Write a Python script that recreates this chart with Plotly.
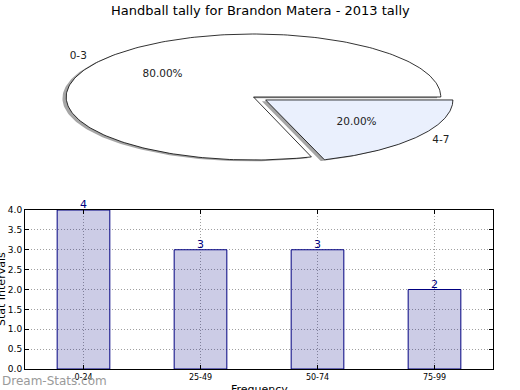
import numpy as np
import plotly.graph_objects as go

# ---- data ----
title_text = "Handball tally for Brandon Matera - 2013 tally"
pie_labels = ["0-3", "4-7"]
pie_values = [80, 20]
pie_explode = [0.0, 0.08]
pie_colors = ["#FFFFFF", "#EAF0FD"]

bar_categories = ["0-24", "25-49", "50-74", "75-99"]
bar_values = [4, 3, 3, 2]
y_ticks = [0.0, 0.5, 1.0, 1.5, 2.0, 2.5, 3.0, 3.5, 4.0]
y_tick_text = ["0.0", "0.5", "1.0", "1.5", "2.0", "2.5", "3.0", "3.5", "4.0"]
x_title = "Frequency"
y_title = "Stat Intervals"
watermark = "Dream-Stats.com"

W, H = 520, 390
FONT = "DejaVu Sans"

fig = go.Figure()

# ---- pie drawn on its own (non-equal aspect) axes ----
total = float(sum(pie_values))
fracs = [v / total for v in pie_values]
starts = np.concatenate([[0.0], np.cumsum(fracs)[:-1]]) * 2 * np.pi
ends = np.cumsum(fracs) * 2 * np.pi


def wedge(i, dx=0.0, dy=0.0):
    mid = (starts[i] + ends[i]) / 2
    cx = pie_explode[i] * np.cos(mid) + dx
    cy = pie_explode[i] * np.sin(mid) + dy
    t = np.linspace(starts[i], ends[i], 240)
    xs = np.concatenate([[cx], cx + np.cos(t), [cx]])
    ys = np.concatenate([[cy], cy + np.sin(t), [cy]])
    return xs, ys, cx, cy, mid


# shadows first
for i in range(len(pie_values)):
    xs, ys, *_ = wedge(i, -0.02, -0.02)
    fig.add_trace(go.Scatter(x=xs, y=ys, xaxis="x2", yaxis="y2", mode="lines",
                             fill="toself", fillcolor="rgba(77,77,77,0.5)",
                             line=dict(width=0), hoverinfo="skip", showlegend=False))
for i in range(len(pie_values)):
    xs, ys, *_ = wedge(i)
    fig.add_trace(go.Scatter(x=xs, y=ys, xaxis="x2", yaxis="y2", mode="lines",
                             fill="toself", fillcolor=pie_colors[i],
                             line=dict(color="black", width=0.8),
                             hoverinfo="skip", showlegend=False))
# labels and percentages
for i in range(len(pie_values)):
    _, _, cx, cy, mid = wedge(i)
    lx, ly = cx + 1.1 * np.cos(mid), cy + 1.1 * np.sin(mid)
    px, py = cx + 0.6 * np.cos(mid), cy + 0.6 * np.sin(mid)
    fig.add_trace(go.Scatter(x=[lx], y=[ly], xaxis="x2", yaxis="y2", mode="text",
                             text=[pie_labels[i]],
                             textposition="middle left" if lx < 0 else "middle right",
                             textfont=dict(family=FONT, size=10.5, color="#222"),
                             hoverinfo="skip", showlegend=False))
    fig.add_trace(go.Scatter(x=[px], y=[py], xaxis="x2", yaxis="y2", mode="text",
                             text=["%.2f%%" % (100 * fracs[i])],
                             textposition="middle center",
                             textfont=dict(family=FONT, size=10.5, color="#222"),
                             hoverinfo="skip", showlegend=False))

# ---- bar chart ----
fig.add_trace(go.Bar(x=bar_categories, y=bar_values, width=0.45,
                     marker=dict(color="rgba(0,0,128,0.2)",
                                 line=dict(color="#000080", width=1)),
                     showlegend=False, hoverinfo="skip"))

# pixel helpers
def px_x(p):
    return p / W


def px_y(p):
    return 1 - p / H


# pie axes: centre at pixel (253.5, 97), rx=187.3 px, ry=63 px
rx, ry, pcx, pcy = 187.3, 63.0, 253.5, 97.0
fig.update_layout(
    xaxis2=dict(domain=[0, 1], range=[-pcx / rx, (W - pcx) / rx], visible=False,
                anchor="y2", fixedrange=True, automargin=False),
    yaxis2=dict(domain=[px_y(195), 1], range=[-(195 - pcy) / ry, pcy / ry],
                visible=False, anchor="x2", fixedrange=True, automargin=False),
)

axis_common = dict(showline=True, linecolor="black", linewidth=1, mirror="ticks",
                   ticks="inside", ticklen=4, tickcolor="black",
                   showgrid=True, gridcolor="#a0a0a0", griddash="1px,2px", gridwidth=1,
                   zeroline=False, automargin=False)
fig.update_layout(
    xaxis=dict(domain=[px_x(25), px_x(493)], range=[-0.5, 3.5], anchor="y",
               tickfont=dict(family=FONT, size=8, color="black"), **axis_common),
    yaxis=dict(domain=[px_y(369), px_y(210)], range=[0, 4], anchor="x",
               tickvals=y_ticks, ticktext=y_tick_text,
               tickfont=dict(family=FONT, size=9, color="black"), **axis_common),
)

value_annots = [
    dict(text=str(v), x=c, y=v, xref="x", yref="y", xanchor="center",
         yanchor="bottom", yshift=-3, showarrow=False,
         font=dict(family=FONT, size=11, color="#000080"))
    for c, v in zip(bar_categories, bar_values)
]

fig.update_layout(
    width=W, height=H, margin=dict(l=0, r=0, t=0, b=0, pad=0, autoexpand=False),
    paper_bgcolor="white", plot_bgcolor="white", showlegend=False,
    annotations=value_annots + [
        dict(text=title_text, x=0.5, y=px_y(10), xref="paper", yref="paper",
             xanchor="center", yanchor="middle", showarrow=False,
             font=dict(family=FONT, size=13, color="black")),
        dict(text=y_title, x=px_x(1.5), y=px_y(289.5), xref="paper", yref="paper",
             xanchor="center", yanchor="middle", textangle=-90, showarrow=False,
             font=dict(family=FONT, size=11, color="black")),
        dict(text=x_title, x=px_x(259), y=px_y(381), xref="paper", yref="paper",
             xanchor="center", yanchor="top", showarrow=False,
             font=dict(family=FONT, size=11, color="black")),
        dict(text=watermark, x=0, y=px_y(381), xref="paper", yref="paper",
             xanchor="left", yanchor="middle", showarrow=False,
             font=dict(family=FONT, size=12, color="#9a9a9a")),
    ],
)

fig.write_html("out.html", config={"displayModeBar": False},
               post_script="document.body.style.margin='0';document.body.style.overflow='hidden';")
